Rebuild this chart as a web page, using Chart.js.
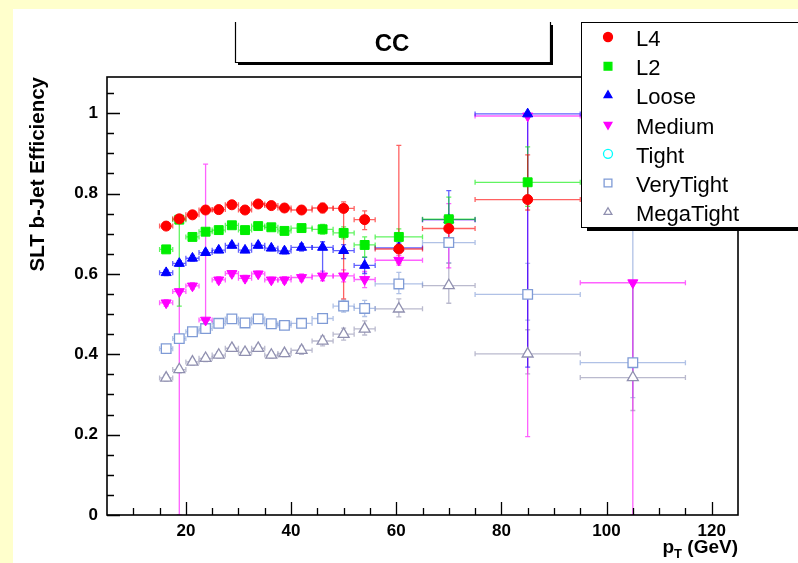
<!DOCTYPE html>
<html>
<head>
<meta charset="utf-8">
<title>SLT b-Jet Efficiency</title>
<script src="https://cdn.jsdelivr.net/npm/chart.js@4.4.1/dist/chart.umd.min.js"></script>
<style>
  html, body { margin: 0; padding: 0; background: #ffffcc; }
  canvas { display: block; }
</style>
</head>
<body>
<canvas id="effChart" width="798" height="563"></canvas>
<script>
// pT bins (GeV): centre and half width
const ptCenter = [16.25, 18.75, 21.25, 23.75, 26.25, 28.75, 31.25, 33.75, 36.25, 38.75, 42, 46, 50, 54, 60.5, 70, 85, 105];
const ptHalfWidth = [1.25, 1.25, 1.25, 1.25, 1.25, 1.25, 1.25, 1.25, 1.25, 1.25, 2, 2, 2, 2, 4.5, 5, 10, 10];

const xTickValues = [20, 40, 60, 80, 100, 120];
const yTickValues = [0, 0.2, 0.4, 0.6, 0.8, 1];

// efficiencies and asymmetric errors per tagger working point
const effL4 = [0.719, 0.737, 0.747, 0.759, 0.760, 0.772, 0.759, 0.774, 0.770, 0.764, 0.759, 0.764, 0.763, 0.735, 0.662, 0.713, 0.785, null];
const errUpL4 = [0.007, 0.006, 0.006, 0.006, 0.006, 0.006, 0.006, 0.006, 0.006, 0.007, 0.009, 0.012, 0.016, 0.022, 0.258, 0.030, 0.111, null];
const errDnL4 = [0.007, 0.006, 0.006, 0.006, 0.006, 0.006, 0.006, 0.006, 0.006, 0.007, 0.009, 0.012, 0.225, 0.025, 0.035, 0.046, 0.026, null];

const effL2 = [0.661, 0.735, 0.692, 0.705, 0.709, 0.721, 0.709, 0.719, 0.716, 0.707, 0.714, 0.711, 0.702, 0.672, 0.692, 0.736, 0.828, null];
const errUpL2 = [0.007, 0.004, 0.007, 0.006, 0.006, 0.006, 0.006, 0.006, 0.006, 0.007, 0.009, 0.012, 0.015, 0.020, 0.020, 0.055, 0.088, null];
const errDnL2 = [0.007, 0.215, 0.007, 0.006, 0.006, 0.006, 0.006, 0.006, 0.006, 0.007, 0.009, 0.012, 0.015, 0.030, 0.020, 0.030, 0.060, null];

const effLoose = [0.603, 0.626, 0.639, 0.653, 0.659, 0.671, 0.659, 0.671, 0.664, 0.657, 0.666, 0.666, 0.658, 0.621, 0.665, 0.735, 0.998, null];
const errUpLoose = [0.007, 0.007, 0.007, 0.006, 0.006, 0.006, 0.006, 0.006, 0.006, 0.007, 0.009, 0.014, 0.015, 0.020, 0.012, 0.072, 0.002, null];
const errDnLoose = [0.007, 0.007, 0.007, 0.006, 0.006, 0.006, 0.006, 0.006, 0.006, 0.007, 0.009, 0.075, 0.020, 0.020, 0.012, 0.030, 0.630, null];

const effMedium = [0.528, 0.556, 0.570, 0.485, 0.585, 0.601, 0.589, 0.600, 0.585, 0.585, 0.591, 0.595, 0.595, 0.586, 0.634, 0.735, 0.993, 0.578];
const errUpMedium = [0.008, 0.006, 0.008, 0.388, 0.008, 0.007, 0.007, 0.007, 0.007, 0.008, 0.009, 0.012, 0.015, 0.020, 0.012, 0.040, 0.004, 0.004];
const errDnMedium = [0.008, 0.556, 0.008, 0.008, 0.008, 0.007, 0.007, 0.007, 0.007, 0.008, 0.009, 0.012, 0.015, 0.020, 0.012, 0.120, 0.798, 0.578];

const effTight = [];
const errUpTight = [];
const errDnTight = [];

const effVeryTight = [0.414, 0.439, 0.456, 0.464, 0.477, 0.488, 0.478, 0.488, 0.476, 0.472, 0.477, 0.489, 0.520, 0.514, 0.575, 0.678, 0.549, 0.379];
const errUpVeryTight = [0.008, 0.008, 0.008, 0.008, 0.008, 0.008, 0.008, 0.008, 0.008, 0.008, 0.010, 0.012, 0.015, 0.020, 0.029, 0.050, 0.077, 0.400];
const errDnVeryTight = [0.008, 0.008, 0.008, 0.008, 0.008, 0.008, 0.008, 0.008, 0.008, 0.008, 0.010, 0.012, 0.015, 0.020, 0.024, 0.050, 0.064, 0.087];

const effMegaTight = [0.341, 0.362, 0.381, 0.390, 0.398, 0.415, 0.405, 0.415, 0.398, 0.402, 0.410, 0.433, 0.450, 0.463, 0.513, 0.571, 0.401, 0.342];
const errUpMegaTight = [0.008, 0.008, 0.008, 0.008, 0.008, 0.008, 0.008, 0.008, 0.008, 0.008, 0.010, 0.012, 0.015, 0.020, 0.025, 0.055, 0.060, 0.235];
const errDnMegaTight = [0.008, 0.008, 0.008, 0.008, 0.008, 0.008, 0.008, 0.008, 0.008, 0.008, 0.010, 0.012, 0.015, 0.015, 0.020, 0.044, 0.050, 0.082];

const FONT = '"Liberation Sans", Arial, Helvetica, sans-serif';

// marker styles, ROOT-like
const series = [
    { label: 'L4',        eff: effL4,        up: errUpL4,        dn: errDnL4,        color: '#ff0000', style: 'circle',   radius: 5,   rot: 0,   open: false },
    { label: 'L2',        eff: effL2,        up: errUpL2,        dn: errDnL2,        color: '#00ee00', style: 'rect',     radius: 6.3, rot: 0,   open: false },
    { label: 'Loose',     eff: effLoose,     up: errUpLoose,     dn: errDnLoose,     color: '#0000ff', style: 'triangle', radius: 5.8, rot: 0,   open: false },
    { label: 'Medium',    eff: effMedium,    up: errUpMedium,    dn: errDnMedium,    color: '#ff00ff', style: 'triangle', radius: 5.8, rot: 180, open: false },
    { label: 'Tight',     eff: effTight,     up: errUpTight,     dn: errDnTight,     color: '#00ffff', style: 'circle',   radius: 5,   rot: 0,   open: true },
    { label: 'VeryTight', eff: effVeryTight, up: errUpVeryTight, dn: errDnVeryTight, color: '#7f9bd6', style: 'rect',     radius: 6.8, rot: 0,   open: true },
    { label: 'MegaTight', eff: effMegaTight, up: errUpMegaTight, dn: errDnMegaTight, color: '#9090b0', style: 'triangle', radius: 6.3, rot: 0,   open: true }
];

const datasets = series.map(s => {
    const pts = [], lo = [], hi = [], eu = [], ed = [];
    s.eff.forEach((v, i) => {
        if (v === null || v === undefined) return;
        pts.push({ x: ptCenter[i], y: v });
        lo.push(ptCenter[i] - ptHalfWidth[i]);
        hi.push(ptCenter[i] + ptHalfWidth[i]);
        eu.push(s.up[i]);
        ed.push(s.dn[i]);
    });
    return {
        label: s.label,
        data: pts,
        xLo: lo, xHi: hi, yUp: eu, yDn: ed,
        pointStyle: s.style,
        pointRadius: s.radius,
        pointRotation: s.rot,
        pointBorderWidth: s.open ? 1.3 : 1,
        pointBorderColor: s.color,
        pointBackgroundColor: s.open ? '#ffffff' : s.color,
        showLine: false
    };
});

// horizontal bin-width bars and vertical error bars with small end caps
const errorBars = {
    id: 'errorBars',
    beforeDatasetsDraw(chart) {
        const { ctx, chartArea: a, scales: { x, y } } = chart;
        ctx.save();
        ctx.beginPath();
        ctx.rect(a.left, a.top, a.right - a.left, a.bottom - a.top);
        ctx.clip();
        ctx.lineWidth = 1.3;
        for (let d = chart.data.datasets.length - 1; d >= 0; d--) {
            const ds = chart.data.datasets[d];
            ctx.strokeStyle = ds.pointBorderColor;
            ctx.globalAlpha = 0.62;
            ds.data.forEach((p, i) => {
                const px = x.getPixelForValue(p.x);
                const py = y.getPixelForValue(p.y);
                const x0 = x.getPixelForValue(ds.xLo[i]);
                const x1 = x.getPixelForValue(ds.xHi[i]);
                const yT = y.getPixelForValue(p.y + ds.yUp[i]);
                const yB = y.getPixelForValue(Math.max(0, p.y - ds.yDn[i]));
                ctx.beginPath();
                ctx.moveTo(x0, py); ctx.lineTo(x1, py);
                ctx.moveTo(x0, py - 2.5); ctx.lineTo(x0, py + 2.5);
                ctx.moveTo(x1, py - 2.5); ctx.lineTo(x1, py + 2.5);
                ctx.moveTo(px, yT); ctx.lineTo(px, yB);
                ctx.moveTo(px - 2.5, yT); ctx.lineTo(px + 2.5, yT);
                ctx.moveTo(px - 2.5, yB); ctx.lineTo(px + 2.5, yB);
                ctx.stroke();
            });
        }
        ctx.restore();
    }
};

// page background, frame, inner ticks, title box, legend and axis titles
const frameDecor = {
    id: 'frameDecor',
    beforeDraw(chart) {
        const ctx = chart.ctx;
        ctx.save();
        ctx.fillStyle = '#ffffcc';
        ctx.fillRect(0, 0, chart.width, chart.height);
        ctx.fillStyle = '#ffffff';
        ctx.fillRect(13, 9, chart.width - 13, chart.height - 9);
        ctx.restore();
    },
    afterDraw(chart) {
        const { ctx, chartArea: a, scales: { x, y } } = chart;
        ctx.save();
        ctx.strokeStyle = '#000';
        ctx.lineWidth = 1.6;
        ctx.strokeRect(a.left, a.top, a.right - a.left, a.bottom - a.top);

        ctx.lineWidth = 1.3;
        ctx.beginPath();
        for (let v = 10; v <= 120; v += 5) {
            const px = Math.round(x.getPixelForValue(v)) + 0.5;
            const len = xTickValues.includes(v) ? 13 : 7;
            ctx.moveTo(px, a.bottom); ctx.lineTo(px, a.bottom - len);
        }
        for (let k = 0; k <= 21; k++) {
            const v = k * 0.05;
            const py = Math.round(y.getPixelForValue(v)) + 0.5;
            const len = k % 4 === 0 ? 13 : 7;
            ctx.moveTo(a.left, py); ctx.lineTo(a.left + len, py);
        }
        ctx.stroke();

        // title box
        ctx.fillStyle = '#000';
        ctx.fillRect(238, 62, 315, 3);
        ctx.fillRect(550, 25, 3, 40);
        ctx.lineWidth = 1.2;
        ctx.beginPath();
        ctx.moveTo(235.5, 22); ctx.lineTo(235.5, 62.5); ctx.lineTo(550.5, 62.5); ctx.lineTo(550.5, 22);
        ctx.stroke();
        ctx.font = 'bold 24px ' + FONT;
        ctx.textAlign = 'center';
        ctx.textBaseline = 'alphabetic';
        ctx.fillText('CC', 392, 51);

        // legend box
        const lx = 581, ly = 22, lw = 230, lh = 205;
        ctx.fillStyle = '#000';
        ctx.fillRect(lx + 6, ly + lh, lw, 4);
        ctx.fillStyle = '#fff';
        ctx.fillRect(lx, ly, lw, lh);
        ctx.lineWidth = 1;
        ctx.strokeStyle = '#000';
        ctx.strokeRect(lx + 0.5, ly + 0.5, lw, lh);
        ctx.font = '22px ' + FONT;
        ctx.textAlign = 'left';
        series.forEach((s, i) => {
            const ry = 37 + i * 29.2;
            ctx.fillStyle = s.open ? '#fff' : s.color;
            ctx.strokeStyle = s.color;
            ctx.lineWidth = 1.3;
            Chart.helpers.drawPoint(ctx, {
                pointStyle: s.style, radius: s.style === 'rect' ? 5.5 : 4.5,
                rotation: s.rot, borderWidth: 1.3
            }, 608, ry);
            ctx.fillStyle = '#000';
            ctx.fillText(s.label, 636, ry + 9);
        });

        // x-axis title with subscript
        ctx.fillStyle = '#000';
        const big = 'bold 19px ' + FONT, small = 'bold 13px ' + FONT;
        ctx.font = big;
        const wp = ctx.measureText('p').width;
        const wr = ctx.measureText(' (GeV)').width;
        ctx.font = small;
        const wt = ctx.measureText('T').width;
        let tx = a.right - (wp + wt + wr);
        ctx.font = big;
        ctx.fillText('p', tx, 553);
        ctx.font = small;
        ctx.fillText('T', tx + wp, 558);
        ctx.font = big;
        ctx.fillText(' (GeV)', tx + wp + wt, 553);

        // y-axis title
        ctx.translate(44, a.top);
        ctx.rotate(-Math.PI / 2);
        ctx.font = 'bold 20.5px ' + FONT;
        ctx.textAlign = 'right';
        ctx.fillText('SLT b-Jet Efficiency', 0, 0);
        ctx.restore();
    }
};

new Chart(document.getElementById('effChart'), {
    type: 'scatter',
    data: { datasets },
    options: {
        responsive: false,
        animation: false,
        events: [],
        layout: { padding: { left: 0, right: 60, top: 77, bottom: 0 } },
        plugins: { legend: { display: false }, tooltip: { enabled: false } },
        scales: {
            x: {
                type: 'linear', min: 5, max: 125,
                grid: { display: false, drawTicks: false },
                border: { display: false },
                afterBuildTicks: s => { s.ticks = xTickValues.map(v => ({ value: v })); },
                afterFit: s => { s.height = 48; },
                ticks: {
                    padding: 6, color: '#000', maxRotation: 0, autoSkip: false,
                    font: { family: FONT, size: 17, weight: 'bold' },
                    callback: v => String(v)
                }
            },
            y: {
                type: 'linear', min: 0, max: 1.09,
                grid: { display: false, drawTicks: false },
                border: { display: false },
                afterBuildTicks: s => { s.ticks = yTickValues.map(v => ({ value: v })); },
                afterFit: s => { s.width = 107; },
                ticks: {
                    padding: 9, color: '#000', autoSkip: false,
                    font: { family: FONT, size: 17, weight: 'bold' },
                    callback: v => (v === 0 || v === 1) ? String(v) : v.toFixed(1)
                }
            }
        }
    },
    plugins: [errorBars, frameDecor]
});
</script>
</body>
</html>
